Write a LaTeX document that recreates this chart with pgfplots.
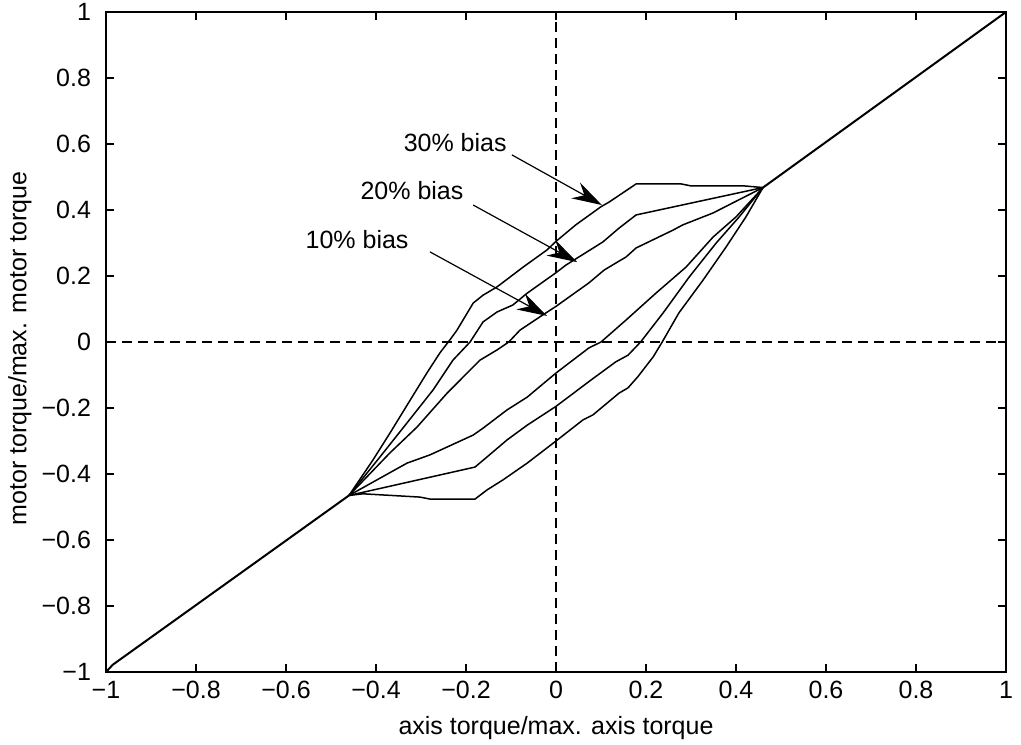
\documentclass[border=0pt]{standalone}
\usepackage{pgfplots}
\pgfplotsset{compat=1.18}
\usepackage{fontspec}
\setmainfont{Liberation Sans}
\usetikzlibrary{arrows.meta}
\newcommand{\lf}{\fontsize{12.5}{15}\selectfont}
\begin{document}
\begin{tikzpicture}[curve/.style={black, solid, line width=0.75pt, mark=none}]
\begin{axis}[
  at={(0,0)}, anchor=south west,
  scale only axis, width=450pt, height=330pt,
  xmin=-1, xmax=1, ymin=-1, ymax=1,
  xtick={-1,-0.8,-0.6,-0.4,-0.2,0,0.2,0.4,0.6,0.8,1},
  ytick={-1,-0.8,-0.6,-0.4,-0.2,0,0.2,0.4,0.6,0.8,1},
  xticklabels={−1,−0.8,−0.6,−0.4,−0.2,0,0.2,0.4,0.6,0.8,1},
  yticklabels={−1,−0.8,−0.6,−0.4,−0.2,0,0.2,0.4,0.6,0.8,1},
  tick label style={font=\lf},
  yticklabel style={xshift=-4pt},
  xticklabel style={yshift=-1pt},
  tick align=inside, tick pos=both, major tick length=4pt,
  tick style={black, line width=0.6pt},
  axis line style={line width=0.8pt},
  xlabel={axis torque/max. axis torque},
  ylabel={motor torque/max. motor torque},
  label style={font=\lf},
  xlabel style={at={(axis description cs:0.5,-0.085)}, anchor=center},
  ylabel style={at={(axis description cs:-0.0956,0.49)}, anchor=center},
  cycle list={{black, solid, mark=none}},
]
% reference lines
\addplot[black, mark=none, dash pattern=on 5pt off 3pt, line width=0.6pt] coordinates {(0,-1) (0,1)};
\addplot[black, mark=none, dash pattern=on 5pt off 3pt, line width=0.6pt] coordinates {(-1,0) (1,0)};
% diagonal
\addplot[curve, line width=1pt] coordinates {(-1,-1) (-0.985,-0.978) (-0.46,-0.465)};
\addplot[curve, line width=1pt] coordinates {(0.46,0.468) (1,1)};
% 30% bias
\addplot[curve] coordinates {(-0.46,-0.465) (-0.407,-0.358) (-0.369,-0.276) (-0.324,-0.176) (-0.287,-0.094) (-0.258,-0.033) (-0.236,0.006) (-0.22,0.036) (-0.184,0.118) (-0.162,0.142) (-0.131,0.167) (-0.073,0.227) (-0.02,0.279) (0,0.305) (0.044,0.355) (0.1,0.41) (0.118,0.424) (0.178,0.479) (0.278,0.479) (0.3,0.473) (0.418,0.473) (0.46,0.468)};
\addplot[curve] coordinates {(-0.46,-0.465) (-0.429,-0.46) (-0.302,-0.47) (-0.28,-0.476) (-0.18,-0.476) (-0.153,-0.448) (-0.118,-0.418) (-0.064,-0.367) (0,-0.30) (0.06,-0.236) (0.082,-0.221) (0.14,-0.155) (0.16,-0.139) (0.182,-0.105) (0.216,-0.045) (0.236,0) (0.273,0.088) (0.327,0.188) (0.378,0.288) (0.422,0.379) (0.46,0.468)};
% 20% bias
\addplot[curve] coordinates {(-0.46,-0.465) (-0.391,-0.348) (-0.331,-0.245) (-0.273,-0.145) (-0.229,-0.055) (-0.191,0) (-0.162,0.061) (-0.131,0.091) (-0.096,0.112) (-0.064,0.148) (0,0.21) (0.022,0.233) (0.104,0.303) (0.14,0.345) (0.178,0.385) (0.46,0.468)};
\addplot[curve] coordinates {(-0.46,-0.465) (-0.18,-0.379) (-0.153,-0.348) (-0.109,-0.297) (-0.064,-0.252) (0,-0.195) (0.078,-0.115) (0.133,-0.06) (0.16,-0.04) (0.188,0) (0.238,0.088) (0.296,0.197) (0.356,0.3) (0.407,0.379) (0.46,0.468)};
% 10% bias
\addplot[curve] coordinates {(-0.46,-0.465) (-0.369,-0.336) (-0.309,-0.258) (-0.242,-0.155) (-0.169,-0.055) (-0.131,-0.024) (-0.105,0) (-0.08,0.036) (-0.036,0.076) (0,0.108) (0.073,0.179) (0.107,0.218) (0.156,0.258) (0.178,0.285) (0.26,0.339) (0.282,0.355) (0.349,0.391) (0.46,0.468)};
\addplot[curve] coordinates {(-0.46,-0.465) (-0.331,-0.367) (-0.28,-0.342) (-0.184,-0.282) (-0.162,-0.261) (-0.109,-0.206) (-0.064,-0.167) (0,-0.094) (0.073,-0.018) (0.1,0) (0.156,0.067) (0.222,0.148) (0.289,0.227) (0.349,0.318) (0.4,0.379) (0.46,0.468)};
% annotations
\node[font=\lf] at (axis cs:-0.224,0.603) {30\% bias};
\node[font=\lf] at (axis cs:-0.32,0.458) {20\% bias};
\node[font=\lf] at (axis cs:-0.442,0.309) {10\% bias};
\draw[-{Stealth[length=15pt,width=9pt,inset=5pt]}, line width=0.6pt] (axis cs:-0.098,0.567) -- (axis cs:0.102,0.415);
\draw[-{Stealth[length=15pt,width=9pt,inset=5pt]}, line width=0.6pt] (axis cs:-0.184,0.415) -- (axis cs:0.047,0.242);
\draw[-{Stealth[length=15pt,width=9pt,inset=5pt]}, line width=0.6pt] (axis cs:-0.28,0.273) -- (axis cs:-0.02,0.079);
\end{axis}
\pgfresetboundingbox
\path[use as bounding box] (-53pt,-36pt) rectangle (457.5pt,336pt);
\end{tikzpicture}
\end{document}
